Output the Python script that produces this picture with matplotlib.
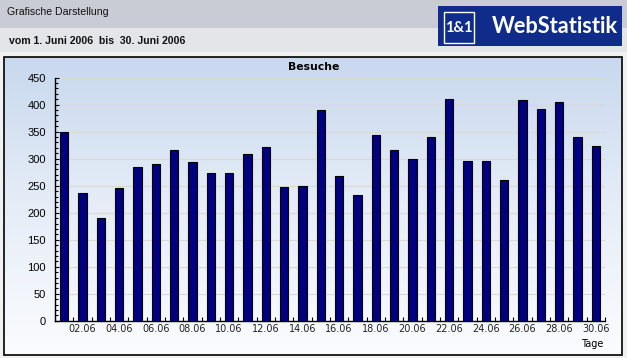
import numpy as np
import matplotlib
matplotlib.use("Agg")
import matplotlib.pyplot as plt
from matplotlib.patches import Rectangle
from matplotlib.colors import LinearSegmentedColormap
from matplotlib.ticker import MultipleLocator

W, H = 627, 358

# data
days = list(range(1, 31))
besuche = [349, 236, 191, 245, 284, 290, 316, 294, 273, 273,
           308, 321, 247, 249, 390, 268, 233, 344, 316, 299,
           340, 410, 295, 295, 260, 408, 392, 405, 340, 323]
tick_days = [2, 4, 6, 8, 10, 12, 14, 16, 18, 20, 22, 24, 26, 28, 30]
tick_labels = ["02.06", "04.06", "06.06", "08.06", "10.06", "12.06", "14.06", "16.06",
               "18.06", "20.06", "22.06", "24.06", "26.06", "28.06", "30.06"]
title = "Besuche"
xlabel = "Tage"
header = "Grafische Darstellung"
zeitraum = "vom 1. Juni 2006  bis  30. Juni 2006"


def fit_width(fig, t, target):
    # rescale a text so its width in pixels matches the reference
    r = fig.canvas.get_renderer()
    w = t.get_window_extent(r).width
    t.set_fontsize(t.get_fontsize() * target / w)


fig = plt.figure(figsize=(W / 100, H / 100), dpi=100)
fig.patch.set_facecolor("#f1f1f1")

#%% page background, header and logo in pixel coordinates
bg = fig.add_axes([0, 0, 1, 1])
bg.axis("off")
bg.add_patch(Rectangle((0, 0), W, 28, fc="#c9ccd4", ec="none"))
bg.add_patch(Rectangle((0, 28), W, 24, fc="#e4e5e9", ec="none"))
grad = np.linspace(0, 1, 256).reshape(-1, 1)
cmap = LinearSegmentedColormap.from_list("panel", ["#c8d8ee", "#e6edf7", "#fbfcfe"])
bg.imshow(grad, cmap=cmap, extent=(4, 622, 355, 57), aspect="auto", origin="upper", zorder=1)
bg.add_patch(Rectangle((4, 57), 618, 298, fill=False, ec="black", lw=1.2, zorder=2))
bg.add_patch(Rectangle((438, 6), 184, 40, fc="#0f2c8b", ec="none"))
bg.add_patch(Rectangle((443.5, 11.5), 30, 31, fill=False, ec="white", lw=1))
bg.set_xlim(0, W)
bg.set_ylim(H, 0)

bg.text(7, 12, header, family="Liberation Sans", fontsize=7.6, va="center", color="#111111")
bg.text(9, 41.5, zeitraum, family="Liberation Sans", fontsize=7.6, fontweight="bold",
        va="center", color="#111111")
t1 = bg.text(458.5, 27.5, "1&1", family="Lato", fontweight="bold", fontsize=12,
             color="white", ha="center", va="center")
t2 = bg.text(554.5, 26.5, "WebStatistik", family="Lato", fontweight="bold", fontsize=16,
             color="white", ha="center", va="center")
fit_width(fig, t1, 27.5)
fit_width(fig, t2, 127)

bg.text(313.5, 67, title, family="DejaVu Sans", fontweight="bold", fontsize=7.8,
        ha="center", va="center", zorder=3)
bg.text(592, 344, xlabel, family="DejaVu Sans", fontsize=7, ha="center", va="center", zorder=3)

#%% the bar chart
ax = fig.add_axes([55 / W, (H - 320.7) / H, 550 / W, 243 / H])
ax.set_facecolor("none")
ax.bar(days, besuche, width=0.45, color="#000080", edgecolor="black", linewidth=0.8, zorder=3)
ax.set_xlim(0.5, 30.5)
ax.set_ylim(0, 450)
ax.yaxis.set_major_locator(MultipleLocator(50))
ax.yaxis.set_minor_locator(MultipleLocator(10))
ax.set_xticks(tick_days, tick_labels)
ax.set_xticks(np.arange(0.5, 31, 1), minor=True)
ax.tick_params(axis="x", which="major", length=0, pad=2.5, labelsize=7,
               labelfontfamily="DejaVu Sans", labelcolor="#222222")
ax.tick_params(axis="x", which="minor", direction="in", length=3, width=0.8)
ax.tick_params(axis="y", which="major", direction="in", length=2.8, width=0.8, pad=6.5,
               labelsize=8, labelfontfamily="Liberation Sans")
ax.tick_params(axis="y", which="minor", direction="in", length=2, width=0.8)
ax.grid(axis="y", color="#dcd9d3", lw=0.8)
ax.set_axisbelow(True)
for s in ["top", "right"]:
    ax.spines[s].set_visible(False)
for s in ["left", "bottom"]:
    ax.spines[s].set_linewidth(1)

fig.savefig("out.png", dpi=100, facecolor=fig.get_facecolor())
